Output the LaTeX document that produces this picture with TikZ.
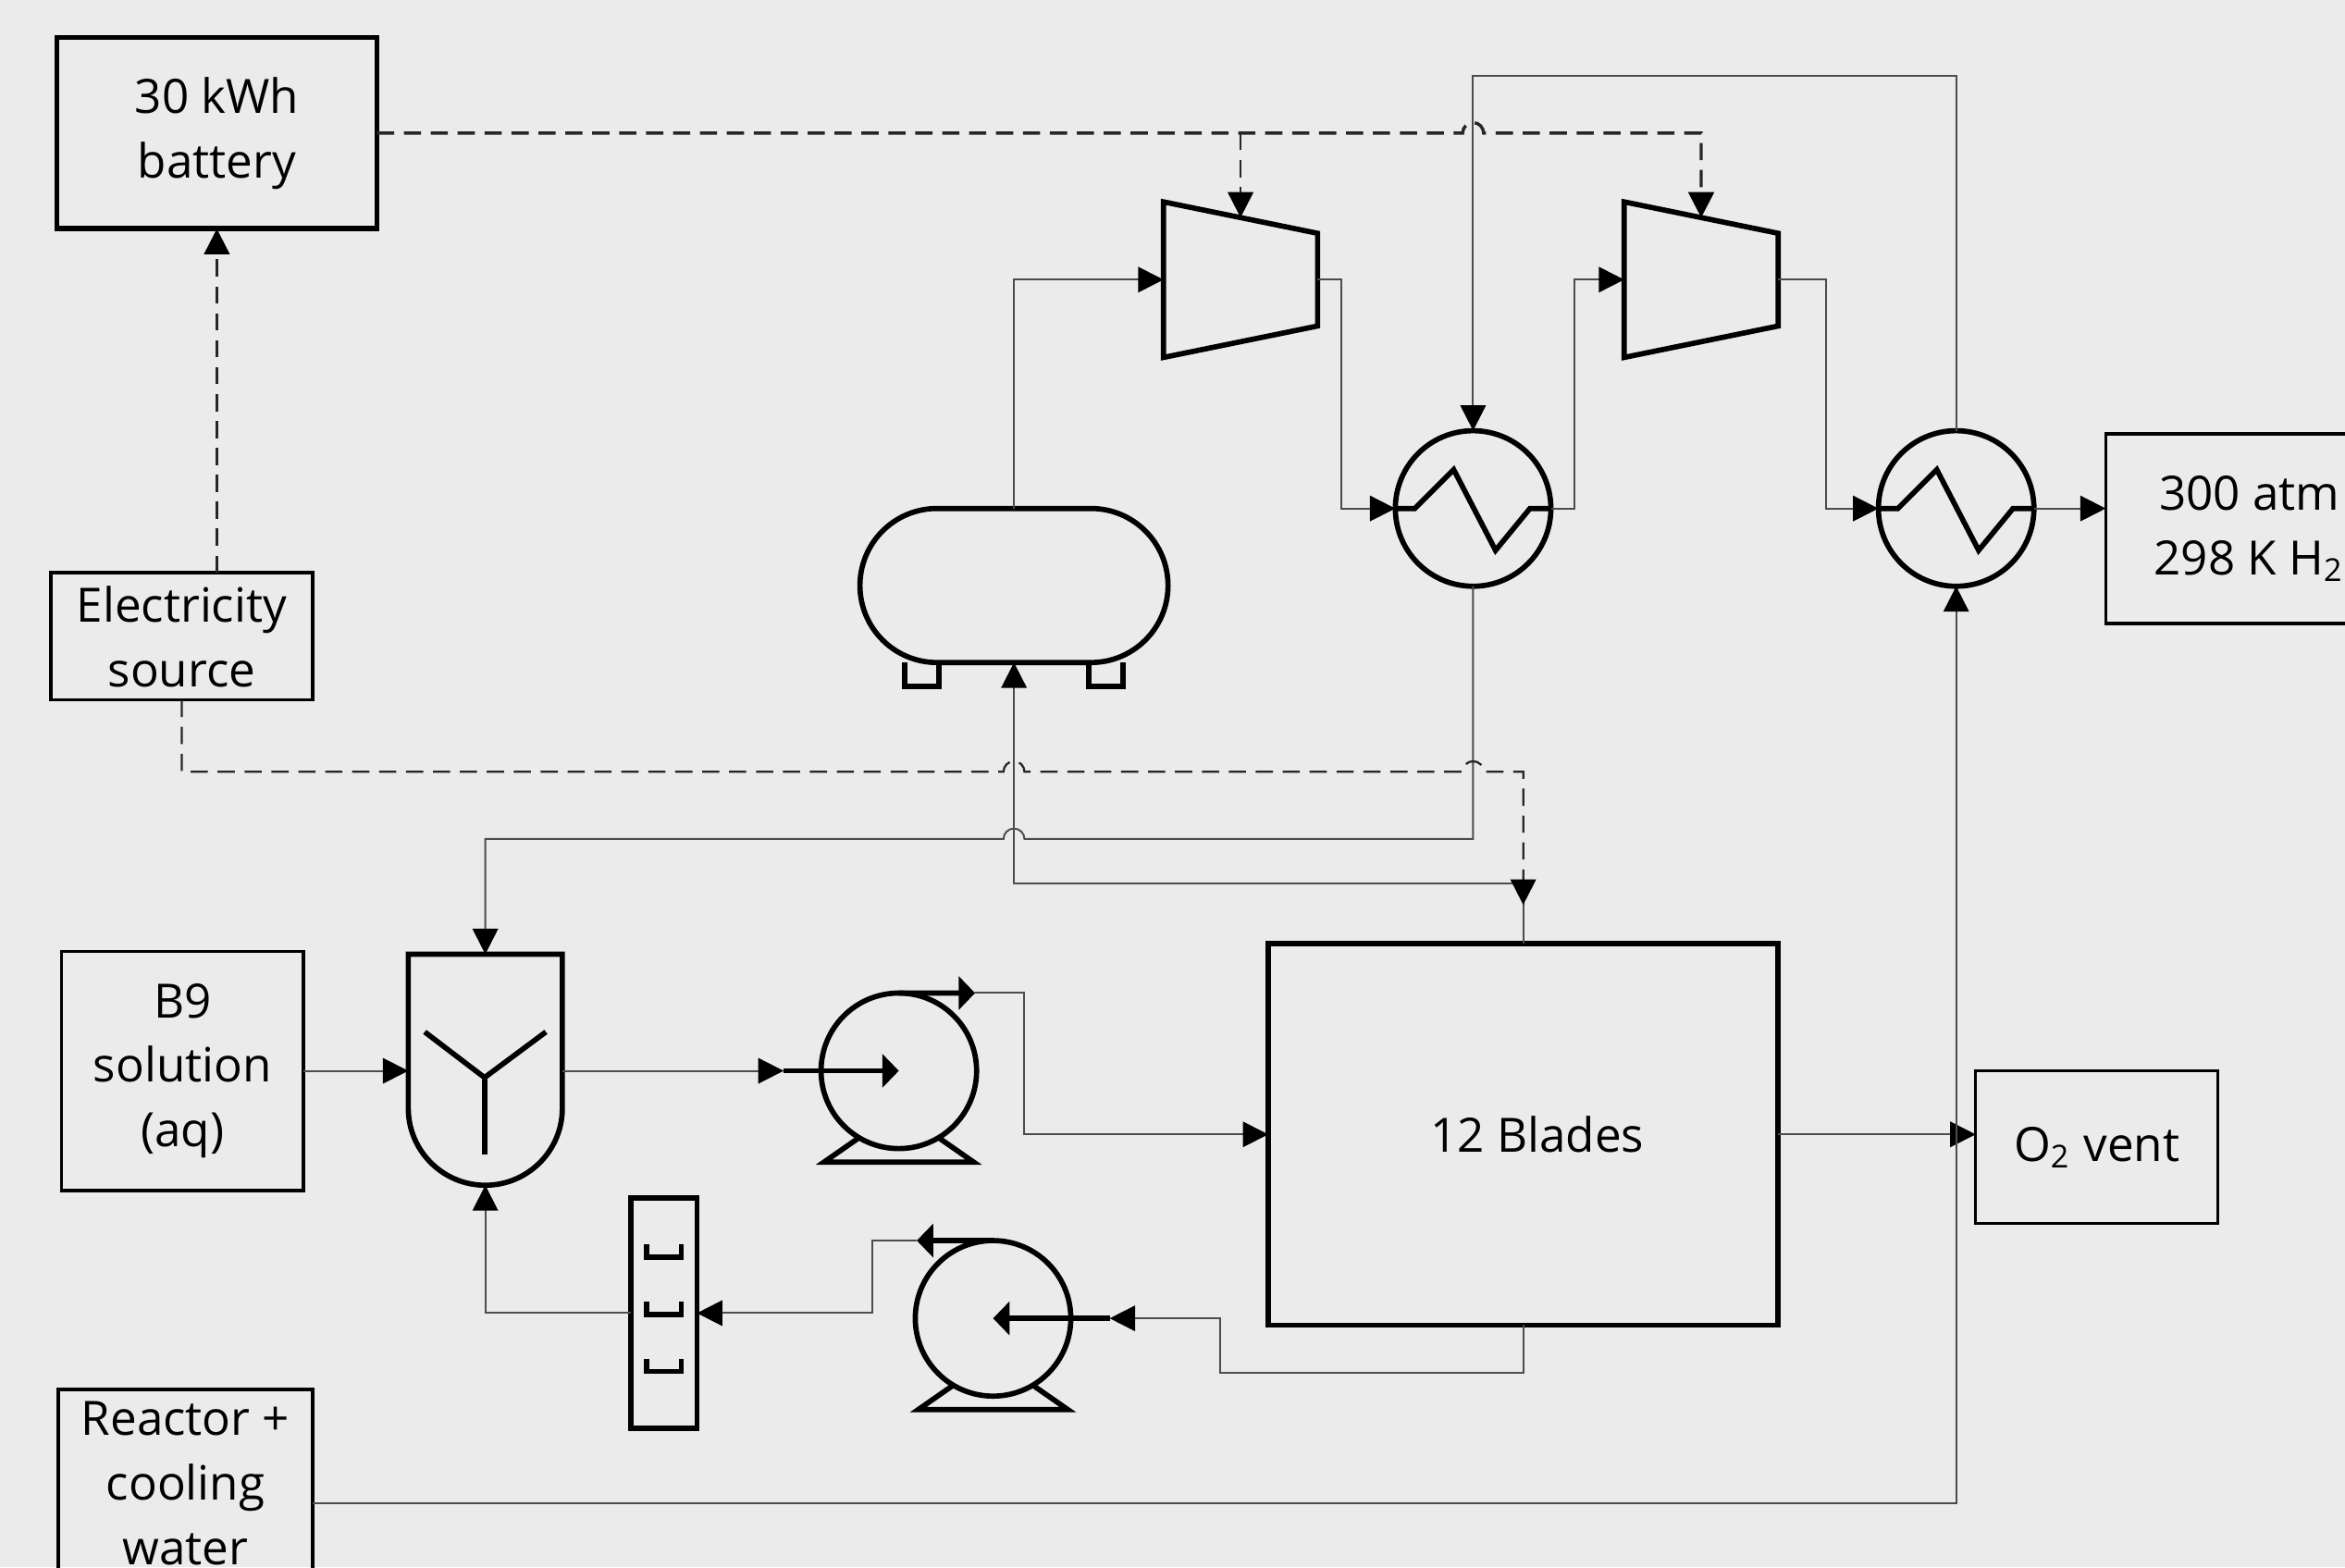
\documentclass[tikz,border=0pt]{standalone}
\usepackage{fontspec}
\setmainfont{Open Sans}
\usetikzlibrary{arrows.meta,shapes.misc}
\definecolor{paper}{HTML}{EBEBEB}

\begin{document}
\begin{tikzpicture}[>={Triangle[length=1.7mm,width=1.7mm,black]},
    box/.style={draw,line width=.6pt,inner sep=0pt,outer sep=0pt,align=center,font=\fontsize{9}{12.3}\selectfont},
    bigbox/.style={box,line width=1pt},
    unit/.style={line width=1pt,line join=miter,outer sep=0pt},
    hxunit/.style={unit,circle,draw,inner sep=0pt,minimum size=1.04cm},
    pumparrow/.style={unit,-{Triangle[length=1.1mm,width=2.2mm]}},
    flow/.style={line width=.35pt,black!70},
    power/.style={line width=.4pt,black!85,dash pattern=on 1.15mm off .65mm}]
  \useasboundingbox (0,0) rectangle (15.68,10.48);
  \fill[paper] (0,0) rectangle (15.68,10.48);
  \clip (0,0) rectangle (15.68,10.48);
  % boxes at the edges
  \node[bigbox,minimum width=2.14cm,minimum height=1.28cm] (battery) at (1.45,9.59) {30 kWh\\battery};
  \node[box,minimum width=1.75cm,minimum height=.85cm] (elec) at (1.215,6.225) {Electricity\\source};
  \node[box,minimum width=1.62cm,minimum height=1.6cm] (b9) at (1.22,3.32) {B9\\solution\\(aq)};
  \node[box,minimum width=1.7cm,minimum height=1.26cm] (reactor) at (1.24,.56) {Reactor +\\cooling\\water};
  \node[box,minimum width=1.92cm,minimum height=1.27cm] (h2box) at (15.04,6.945) {300 atm\\298 K H\textsubscript{2}};
  \node[box,minimum width=1.62cm,minimum height=1.02cm] (o2) at (14.02,2.81) {O\textsubscript{2} vent};
  \node[bigbox,minimum width=3.41cm,minimum height=2.55cm] (blades) at (10.185,2.895) {\hspace*{.19cm}12 Blades};
  % compressors
  \foreach \n/\x in {comp1/7.78,comp2/10.86} {
    \draw[unit] (\x,9.13) -- (\x+1.03,8.92) -- (\x+1.03,8.3) -- (\x,8.09) -- cycle;
    \coordinate (\n in) at (\x,8.61);
    \coordinate (\n out) at (\x+1.03,8.61);
    \coordinate (\n top) at (\x+.515,9.025);
  }
  % heat exchangers
  \node[hxunit] (hx1) at (9.85,7.08) {};
  \node[hxunit] (hx2) at (13.08,7.08) {};
  \foreach \n in {hx1,hx2} {
    \draw[unit] (\n.west) -- ++(.13,0) -- ++(.26,.26) -- ++(.28,-.54) -- ++(.23,.28) -- (\n.east);
  }
  % storage tank
  \node[rounded rectangle,draw,unit,inner sep=0pt,minimum width=2.06cm,minimum height=1.03cm] (tank) at (6.78,6.565) {};
  \foreach \x in {6.05,7.28} {
    \draw[unit] (\x,6.05) -- (\x,5.89) -- (\x+.23,5.89) -- (\x+.23,6.05);
  }
  % mixer
  \draw[unit] (2.73,4.1) -- (3.76,4.1) -- (3.76,3.07) arc[start angle=0,end angle=-180,radius=.515] -- cycle;
  \draw[unit] (2.84,3.58) -- (3.24,3.275) -- (3.65,3.58);
  \draw[unit] (3.24,3.275) -- (3.24,2.76);
  \coordinate (mixtop) at (3.245,4.1);
  \coordinate (mixbot) at (3.245,2.555);
  \coordinate (mixin) at (2.73,3.32);
  \coordinate (mixout) at (3.76,3.32);
  % pumps
  \node[hxunit] (pump1) at (6.01,3.32) {};
  \node[hxunit] (pump2) at (6.64,1.665) {};
  \foreach \n in {pump1,pump2} {
    \draw[unit] ([shift={(-.27,-.45)}]\n.center) -- ([shift={(-.5,-.61)}]\n.center) -- ([shift={(.5,-.61)}]\n.center) -- ([shift={(.27,-.45)}]\n.center);
  }
  \coordinate (p1in) at (5.24,3.32);
  \coordinate (p1out) at (6.52,3.84);
  \coordinate (p2in) at (7.42,1.665);
  \coordinate (p2out) at (6.13,2.185);
  \draw[pumparrow] (p1in) -- (pump1.center);
  \draw[pumparrow] (pump1.north) -- (p1out);
  \draw[pumparrow] (p2in) -- (pump2.center);
  \draw[pumparrow] (pump2.north) -- (p2out);
  % column
  \node[draw,unit,inner sep=0pt,minimum width=.44cm,minimum height=1.54cm] (column) at (4.44,1.7) {};
  \foreach \y in {2.16,1.775,1.395} {
    \draw[line width=1pt] (4.325,\y) -- (4.325,\y-.085) -- (4.555,\y-.085) -- (4.555,\y);
  }
  % process lines
  \draw[flow,->] (tank.north) |- (comp1in);
  \draw[flow,->] (comp1out) -- ++(.16,0) |- (hx1.west);
  \draw[flow,->] (hx1.east) -- ++(.16,0) |- (comp2in);
  \draw[flow,->] (comp2out) -- ++(.32,0) |- (hx2.west);
  \draw[flow,->] (hx2.east) -- (hx2.east -| h2box.west);
  \draw[flow,->] (b9.east) -- (mixin);
  \draw[flow,->] (mixout) -- (p1in);
  \draw[flow,->] (p1out) -- ++(.33,0) |- (blades.west);
  \draw[flow,->] (blades.east) -- (blades.east -| o2.west);
  \draw[flow,->] (blades.north) -- ++(0,.4) -| (tank.south);
  \draw[flow,->] (blades.south) -- ++(0,-.32) -- ++(-2.025,0) |- (p2in);
  \draw[flow,->] (p2out) -- (5.83,2.185) |- (column.east);
  \draw[flow,->] (column.west) -| (mixbot);
  % cooling water, hop over the tank feed
  \draw[flow,->] ([yshift=-.13cm]reactor.east) -| (hx2.south);
  \draw[flow,->] (hx2.north) -- ++(0,2.37) -| (hx1.north);
  \draw[flow,->] (hx1.south) -- (9.85,4.87) -- (6.85,4.87) arc[start angle=0,end angle=180,radius=.07] -| (mixtop);
  % electrical lines
  \draw[power,->] (battery.south |- elec.north) -- (battery.south);
  \draw[power,line width=.6pt,->] (battery.east) -- (9.78,9.59) arc[start angle=180,end angle=0,radius=.07] -| (comp2top);
  \draw[power,->] (comp1top |- battery.east) -- (comp1top);
  \coordinate (bladespwr) at (10.185,4.43);
  \draw[power,->] (elec.south) -- (1.215,5.32) -- (6.71,5.32) arc[start angle=180,end angle=0,radius=.07] -- (9.78,5.32) arc[start angle=180,end angle=0,radius=.07] -| (bladespwr);
\end{tikzpicture}
\end{document}
